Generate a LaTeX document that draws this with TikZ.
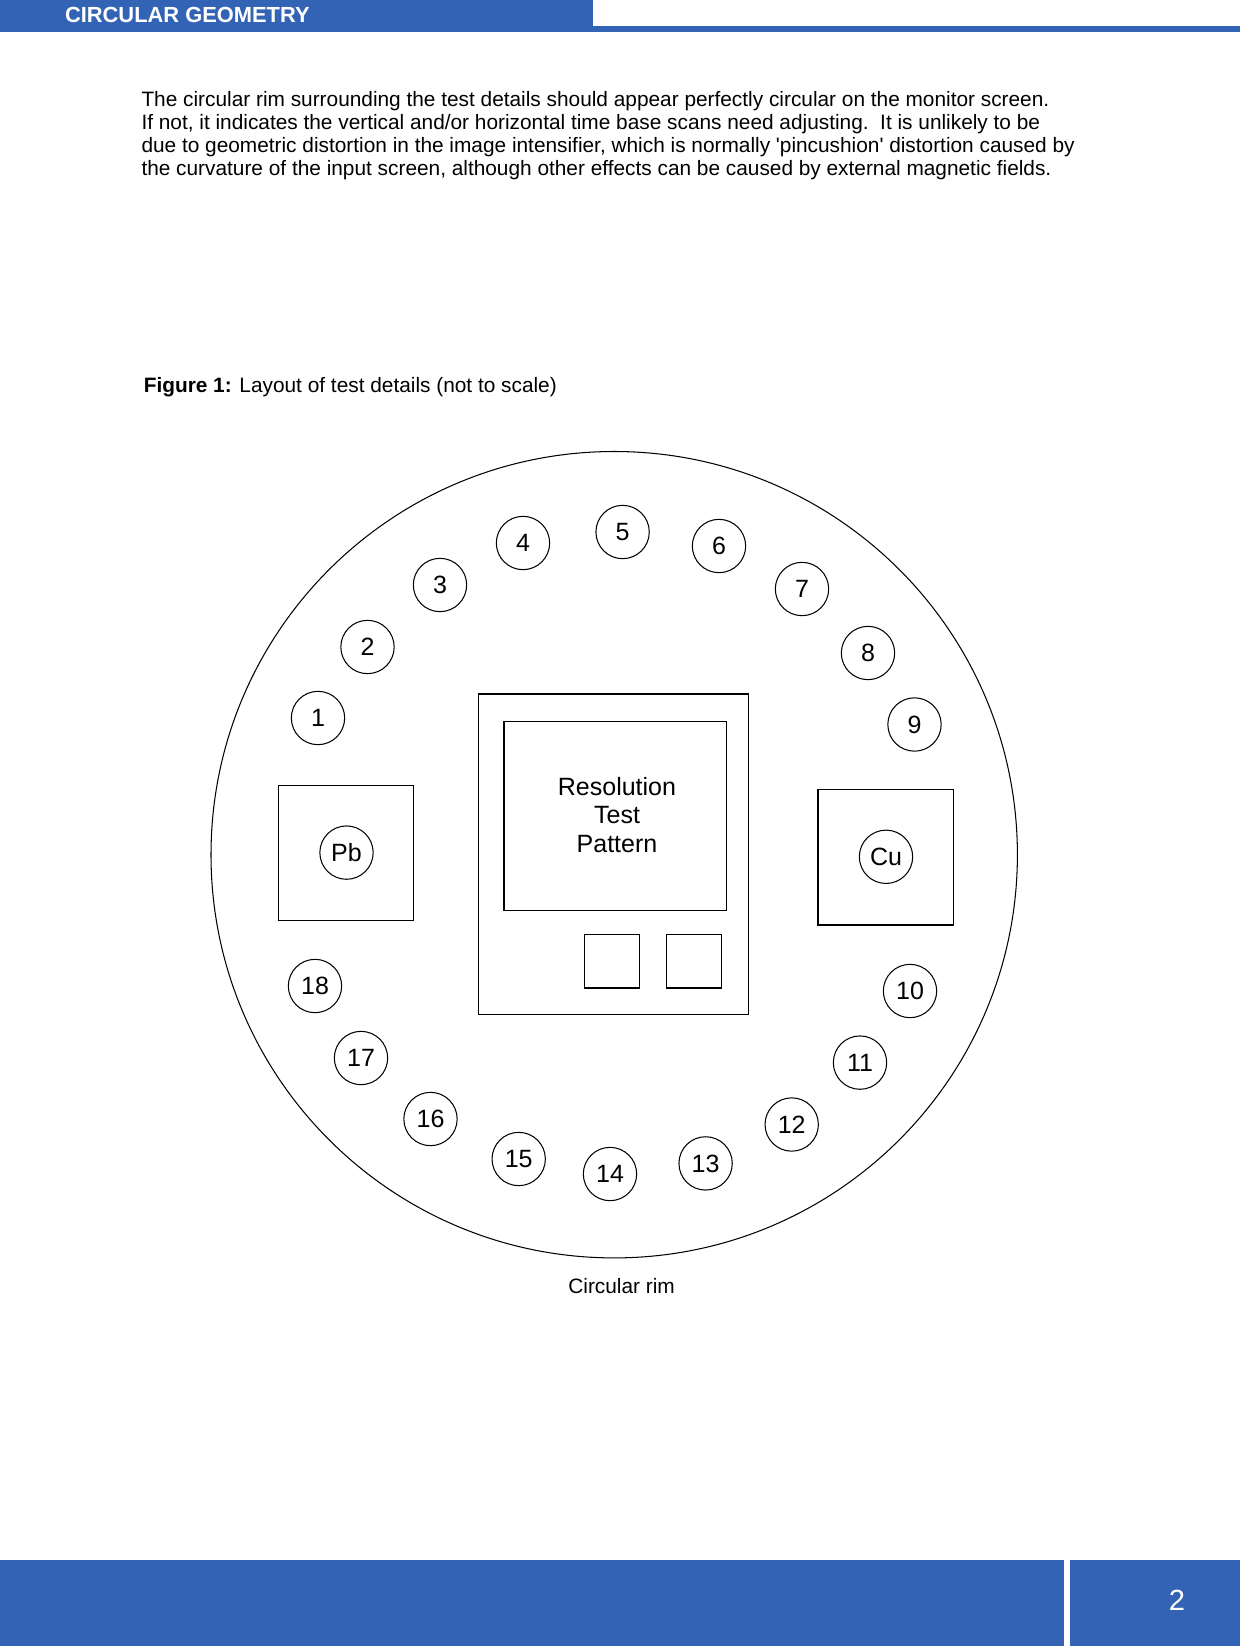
\documentclass[tikz,border=0pt]{standalone}
\usepackage{fontspec}
\setmainfont{Liberation Sans}
\definecolor{headblue}{RGB}{51,99,180}
\begin{document}
\begin{tikzpicture}[x=0.48pt,y=-0.48pt,inner sep=0pt,outer sep=0pt,
detail/.style={draw,circle,line width=0.5pt,minimum size=25.6pt,font=\fontsize{12}{14}\selectfont},
plate/.style={draw,rectangle,line width=0.6pt}]
\useasboundingbox (0,0) rectangle (1240,1646);
% header and footer
\fill[headblue] (0,0) rectangle (593,32);
\fill[headblue] (593,26) rectangle (1240,32);
\draw (65,15) node[anchor=west,text=white,font=\bfseries\fontsize{10.5}{12}\selectfont] (title) {CIRCULAR GEOMETRY};
\fill[headblue] (0,1560) rectangle (1064,1646);
\fill[headblue] (1070,1560) rectangle (1240,1646);
\draw (1177,1600) node[text=white,font=\fontsize{14}{16}\selectfont] (page) {2};
% text
\draw (141.5,175.5) node[anchor=base west,align=left,font=\fontsize{10}{11.1}\selectfont] (intro)
{The circular rim surrounding the test details should appear perfectly circular on the monitor screen.\\
If not, it indicates the vertical and/or horizontal time base scans need adjusting.\ \ It is unlikely to be\\
due to geometric distortion in the image intensifier, which is normally \textquotesingle pincushion\textquotesingle{} distortion caused by\\
the curvature of the input screen, although other effects can be caused by external magnetic fields.};
\draw (143.8,387.5) node[anchor=west,font=\fontsize{10}{12}\selectfont] (caption) {\textbf{Figure 1:} Layout of test details (not to scale)};
% rim
\draw[line width=0.5pt] (614.2,854.7) circle[radius=403.2];
\draw (621.6,1286) node[font=\fontsize{10}{12}\selectfont] (rim) {Circular rim};
% plates
\draw (478.8,694) node[plate,anchor=north west,minimum width=129.6pt,minimum height=153.7pt] (frame) {};
\draw (504,721.4) node[plate,anchor=north west,minimum width=106.8pt,minimum height=90.7pt] (pattern) {};
\draw (617,815) node[align=center,font=\fontsize{12}{13.6}\selectfont] (res) {Resolution\\Test\hspace*{8pt}\\Pattern};
\draw (584.8,934.5) node[plate,anchor=north west,minimum width=26.2pt,minimum height=25.7pt] (sq1) {};
\draw (666.8,934.5) node[plate,anchor=north west,minimum width=26.2pt,minimum height=25.7pt] (sq2) {};
\draw (278.2,785.4) node[plate,anchor=north west,minimum width=65pt,minimum height=65pt] (pbbox) {};
\draw (818,789.6) node[plate,anchor=north west,minimum width=65pt,minimum height=65pt] (cubox) {};
\draw (346.5,852.6) node[detail] (pb) {Pb};
\draw (886,856.8) node[detail] (cu) {Cu};
% numbered details
\foreach \n/\x/\y in {1/318/718,2/367.5/647,3/440/585,4/523/543,5/622.6/532,6/719/546,
  7/802/589,8/868/653,9/914.5/724.5,10/910/991,11/860/1062.6,12/791.7/1124.5,
  13/705.6/1163.4,14/610/1174,15/518.7/1159,16/430.5/1119,17/361/1058,18/315/986}
  \draw (\x,\y) node[detail] (c\n) {\n};
\end{tikzpicture}
\end{document}
